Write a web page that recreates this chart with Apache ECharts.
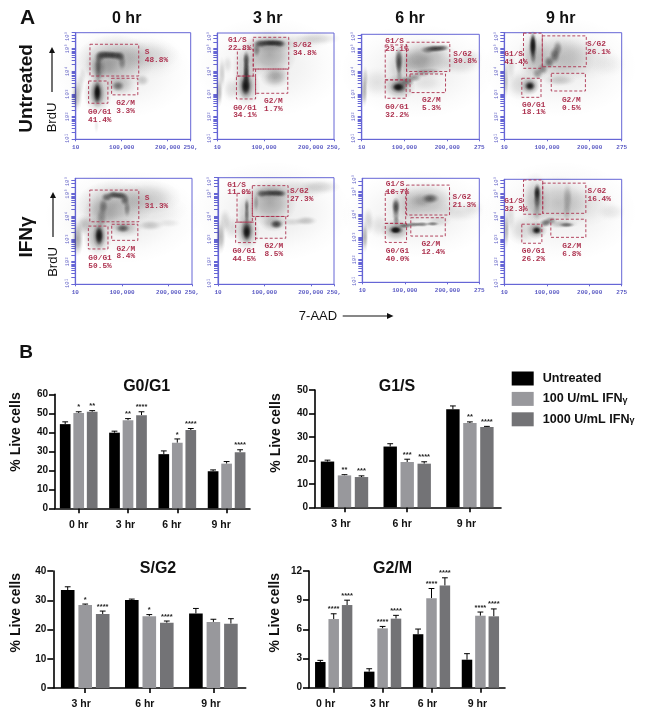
<!DOCTYPE html>
<html><head><meta charset="utf-8">
<style>html,body{margin:0;padding:0;background:#fff}#c{width:645px;height:723px}</style>
<script src="https://cdn.jsdelivr.net/npm/echarts@6/dist/echarts.min.js"></script>
</head><body><div id="c"></div>
<script>
// ---------- Panel B data ----------
const treatments = ['Untreated', '100 U/mL IFNγ', '1000 U/mL IFNγ'];
const timesAll = ['0 hr', '3 hr', '6 hr', '9 hr'];
const timesLate = ['3 hr', '6 hr', '9 hr'];

const g0g1Means = [[44.3, 39.8, 28.5, 19.5], [50.2, 46.3, 34.5, 23.5], [50.8, 49.0, 41.2, 29.5]];
const g0g1Tops  = [[45.5, 40.6, 30.2, 20.2], [50.8, 47.2, 36.5, 24.6], [51.4, 50.8, 42.0, 30.8]];
const g0g1Stars = [['', '', '', ''], ['*', '**', '*', ''], ['**', '****', '****', '****']];

const g1sMeans = [[19.5, 25.9, 41.8], [13.6, 19.3, 35.9], [12.9, 18.6, 34.2]];
const g1sTops  = [[20.1, 27.1, 43.2], [13.9, 20.5, 36.4], [13.4, 19.4, 34.5]];
const g1sStars = [['', '', ''], ['**', '***', '**'], ['***', '****', '****']];

const sg2Means = [[33.5, 30.1, 25.5], [28.4, 24.5, 22.6], [25.3, 22.3, 22.0]];
const sg2Tops  = [[34.6, 30.4, 27.2], [28.7, 25.1, 23.5], [26.3, 22.9, 23.7]];
const sg2Stars = [['', '', ''], ['*', '*', ''], ['****', '****', '']];

const g2mMeans = [[2.64, 1.65, 5.5, 2.88], [7.06, 6.1, 9.2, 7.4], [8.5, 7.1, 10.5, 7.34]];
const g2mTops  = [[2.81, 1.95, 6.03, 3.5], [7.6, 6.3, 10.2, 7.78], [9.0, 7.44, 11.3, 8.1]];
const g2mStars = [['', '', '', ''], ['****', '****', '****', '****'], ['****', '****', '****', '****']];

// ---------- Panel A data ----------
// gates: name, percent, xFrom, xTo (thousands), yFrom, yTo (decades above axis floor), label x, label y
const gates0Untreated = [['S','48.8%',31,137,2.79,4.19,150,4.01],['G0/G1','41.4%',28,70,1.59,2.57,27,1.37],['G2/M','3.3%',78,135,1.96,2.69,88,1.76]];
const gates3Untreated = [['G1/S','22.8%',43,77,2.79,3.97,23,4.53],['S/G2','34.8%',77,153,3.10,4.50,162,4.31],['G2/M','1.7%',82,151,2.03,3.10,100,1.84],['G0/G1','34.1%',41,82,1.78,2.79,34,1.56]];
const gates6Untreated = [['G1/S','23.1%',55,105,2.62,4.16,55,4.50],['S/G2','30.8%',105,206,2.99,4.28,214,3.94],['G2/M','5.3%',113,196,2.06,2.88,141,1.88],['G0/G1','32.2%',55,104,1.81,2.62,55,1.59]];
const gates9Untreated = [['G1/S','41.4%',45,89,3.13,4.68,0,3.91],['S/G2','26.1%',89,192,3.20,4.56,194,4.35],['G2/M','0.5%',110,190,2.13,2.91,135,1.88],['G0/G1','18.1%',41,86,1.85,2.69,41.5,1.69]];
const gates0Ifn = [['S','31.3%',31,136,2.76,4.16,149,3.98],['G0/G1','50.5%',28,70,1.56,2.57,28,1.32],['G2/M','8.4%',78,134,1.94,2.65,88,1.74]];
const gates3Ifn = [['G1/S','11.0%',41,74,2.74,4.01,20,4.56],['S/G2','27.3%',74,151,2.99,4.35,155,4.26],['G2/M','8.5%',81,146,2.03,2.99,100,1.85],['G0/G1','44.5%',38,81,1.84,2.74,31,1.62]];
const gates6Ifn = [['G1/S','18.7%',54,102,2.60,4.00,55,4.50],['S/G2','21.3%',104,205,2.97,4.29,212,3.93],['G2/M','12.4%',114,195,2.04,2.85,139,1.84],['G0/G1','40.0%',54,104,1.76,2.60,55,1.53]];
const gates9Ifn = [['G1/S','32.3%',45,90,3.09,4.60,0,3.84],['S/G2','16.4%',90,191,3.13,4.46,195,4.26],['G2/M','6.8%',109,191,2.07,2.87,136,1.84],['G0/G1','26.2%',41,88,1.81,2.65,41,1.63]];

// density patches: x, y, spreadX, spreadY, density
const cells0Untreated = [
 [100,3.0,110,1.5,.07],
 [85,3.45,62,.85,.3],[60,3.2,30,.5,.2],[150,3.75,55,.55,.12],[165,3.5,50,.6,.06],[50,3.1,12,.5,.3],
 [52,3.65,9,.2,.5],[60,3.72,11,.17,.65],[72,3.72,12,.16,.7],[85,3.7,12,.16,.7],[96,3.66,9,.18,.6],[101,3.4,7,.28,.35],[49,3.3,6,.3,.35],[49,2.9,6,.3,.25],
 [48,2.0,22,.65,.3],[47,2.05,11,.48,.65],[47,2.05,6,.35,1],[47,2.1,4,.2,1],
 [95,2.4,28,.38,.22],[92,2.35,11,.18,.5],[145,2.6,12,.2,.2],
 [2,1.9,9,.5,.28],[9,2.4,7,.4,.12],[15,2.8,6,.3,.08],[45,.6,4,.25,.08]];
const cells3Untreated = [
 [110,3.2,115,1.6,.07],
 [112,3.75,42,.8,.32],[112,4.2,40,.3,.2],[170,4.3,50,.3,.1],[215,4.45,35,.22,.15],[62,3.2,22,.8,.18],
 [62,2.3,22,.6,.3],[61,2.35,11,.42,.75],[61,2.35,7,.28,1],[62,2.75,6,.3,.8],[62,3.1,6,.3,.75],[62,3.5,6,.3,.7],
 [84,3.95,7,.25,.4],[93,4.22,12,.15,.65],[108,4.25,13,.13,.75],[122,4.25,13,.13,.8],[134,4.22,10,.14,.65],
 [123,2.7,22,.32,.28],[130,2.9,20,.3,.12],[4,2.1,6,.5,.28],[10,2.9,6,.55,.18],[22,3.3,8,.3,.1],[30,2.2,14,.4,.12]];
const cells6Untreated = [
 [130,3.0,130,1.5,.07],
 [150,3.55,55,.65,.28],[130,3.4,30,.45,.18],[90,3.1,28,.8,.15],[230,3.3,38,.35,.12],[255,3.6,20,.3,.1],
 [87,2.3,28,.42,.35],[87,2.3,15,.2,.85],[85,2.3,9,.12,1],[87,3.5,8,.42,.7],[87,3.2,6,.3,.4],[88,2.8,6,.3,.25],
 [105,2.55,14,.18,.5],[122,2.72,14,.15,.4],[140,2.92,16,.15,.28],[160,3.0,20,.12,.2],
 [173,4.0,18,.13,.8],[155,3.95,14,.14,.45],[190,4.03,12,.12,.5],
 [6,2.1,6,.5,.3],[8,2.7,6,.4,.18],[35,2.5,30,.5,.1],[150,2.5,30,.3,.08]];
const cells9Untreated = [
 [130,3.2,130,1.6,.07],
 [130,3.6,60,.85,.22],[70,3.6,28,.9,.22],[185,3.55,60,.7,.08],[245,3.3,30,.4,.05],
 [67,4.1,8,.5,.85],[67,4.15,5,.4,.9],[68,3.6,6,.25,.3],
 [60,2.35,16,.28,.5],[60,2.35,9,.15,1],[40,2.4,30,.5,.15],
 [78,2.9,10,.2,.35],[90,3.1,10,.2,.4],[105,3.4,10,.22,.5],[118,3.7,10,.28,.55],[125,4.0,9,.28,.4],
 [130,2.6,28,.2,.18],[4,2.6,5,.6,.22],[14,3.2,10,.5,.12]];
const cells0Ifn = [
 [100,3.0,120,1.5,.08],
 [85,3.5,60,.8,.28],[60,3.1,32,.6,.18],[155,3.85,52,.55,.18],[165,3.3,55,.6,.06],
 [56,2.95,9,.35,.3],[60,3.45,8,.28,.4],[68,3.85,10,.16,.55],[82,3.95,11,.14,.7],[96,3.92,11,.14,.7],[106,3.75,8,.22,.55],[111,3.35,6,.3,.35],
 [48,2.1,22,.65,.3],[51,2.15,10,.42,.75],[51,2.15,6,.3,1],
 [102,2.47,12,.15,.6],[105,2.5,28,.3,.25],[160,2.6,22,.18,.2],[200,2.7,20,.15,.08],
 [5,2.0,9,.55,.35],[18,2.6,14,.35,.2],[30,2.7,16,.25,.1]];
const cells3Ifn = [
 [115,3.2,125,1.6,.08],
 [112,3.6,42,.75,.32],[110,4.05,35,.3,.2],[170,4.2,55,.35,.12],[220,4.3,32,.25,.15],[62,3.1,18,.7,.15],
 [62,2.3,20,.6,.32],[62,2.35,10,.4,.8],[62,2.3,6,.25,1],[62,3.1,4.5,.4,.5],[62,3.5,4.5,.22,.4],
 [82,3.6,5,.3,.25],[95,4.0,10,.14,.55],[110,4.02,12,.13,.65],[125,4.02,12,.13,.7],[136,4.0,9,.13,.5],
 [126,2.65,11,.16,.75],[120,2.7,22,.28,.25],[190,2.8,18,.16,.22],[160,2.75,22,.14,.12],
 [6,2.1,8,.55,.3],[15,2.8,10,.4,.15],[30,2.5,14,.4,.12]];
const cells6Ifn = [
 [130,3.0,130,1.4,.07],
 [150,3.55,55,.65,.25],[100,3.3,35,.8,.12],[225,3.1,45,.32,.1],[260,3.3,20,.25,.06],
 [79,2.3,26,.38,.35],[79,2.31,13,.15,1],[78,2.3,8,.1,1],
 [79,3.35,8,.3,.75],[79,3.0,7,.3,.35],[80,2.7,6,.2,.3],
 [160,3.7,16,.18,.6],[140,3.6,20,.25,.18],
 [100,2.5,14,.1,.55],[120,2.55,14,.09,.5],[140,2.56,14,.09,.5],[165,2.58,12,.08,.5],[180,2.7,22,.2,.12],
 [6,2.0,6,.5,.32],[14,2.7,10,.45,.15],[40,2.5,20,.4,.1]];
const cells9Ifn = [
 [130,3.2,130,1.6,.07],
 [125,3.6,60,.85,.2],[72,3.7,26,.9,.22],[185,3.5,55,.7,.08],[250,3.2,25,.3,.08],
 [77,4.05,7,.3,.95],[77,3.7,7,.35,.6],[76,3.2,8,.3,.2],
 [76,2.4,18,.3,.4],[76,2.38,9,.14,1],[45,2.4,30,.5,.15],
 [96,2.7,10,.14,.55],[108,2.8,12,.14,.4],[146,2.62,14,.09,.5],[135,2.65,28,.14,.22],
 [148,3.8,9,.5,.25],[146,3.2,8,.35,.15],
 [5,2.4,5,.6,.28],[14,3.0,10,.5,.12]];

const columnTitles = ['0 hr', '3 hr', '6 hr', '9 hr'];
const xTop250 = ['10', '100,000', '200,000', '250,'];
const xTop275 = ['10', '100,000', '200,000', '275'];
const logTickLabels = ['10¹', '10²', '10³', '10⁴', '10⁵', '10⁵'];

// ---------- layout ----------
const FLOW_BLUE = '#6666d6', GATE_RED = '#ad3350', MONO = '"Liberation Mono", monospace', SANS = '"Liberation Sans", Arial, sans-serif';
const SOFTEN = 1.4;
const flowPlots = [
 {gates: gates0Untreated, cells: cells0Untreated, x:[75.7,190.7], y:[32.7,139.3], xMax:250, yMax:4.7},
 {gates: gates3Untreated, cells: cells3Untreated, x:[217.3,334], y:[33,139.3], xMax:250, yMax:4.69},
 {gates: gates6Untreated, cells: cells6Untreated, x:[361.7,479.3], y:[34.3,139.3], xMax:275, yMax:4.63},
 {gates: gates9Untreated, cells: cells9Untreated, x:[504.3,621.7], y:[32.7,139.3], xMax:275, yMax:4.7},
 {gates: gates0Ifn, cells: cells0Ifn, x:[75.3,192], y:[178.3,284.3], xMax:250, yMax:4.68},
 {gates: gates3Ifn, cells: cells3Ifn, x:[218,334], y:[177.7,284.3], xMax:250, yMax:4.7},
 {gates: gates6Ifn, cells: cells6Ifn, x:[362.3,479.3], y:[178.3,282.3], xMax:275, yMax:4.59},
 {gates: gates9Ifn, cells: cells9Ifn, x:[504.3,621.7], y:[179.3,284.3], xMax:275, yMax:4.63}
];
const logValues = [];
[0,1,2,3,4].forEach(d => [1,2,3,4,5,6,7,8,9].forEach(k => logValues.push(d + Math.log10(k))));

const barPanels = [
 {title:'G0/G1', titleX:146.7, titleY:379, times:timesAll, means:g0g1Means, tops:g0g1Tops, stars:g0g1Stars, yMax:60, yStep:10,
  axisX:55, endX:250, centers:[78.7,128,177.8,227.3], labelOffset:[0,-2.5,-5.5,-5.5], y0:508.3, yTop:394.3, barW:10.7, pitch:13.5},
 {title:'G1/S', titleX:397, titleY:379, times:timesLate, means:g1sMeans, tops:g1sTops, stars:g1sStars, yMax:50, yStep:10,
  axisX:315, endX:501, centers:[344.5,407.2,470], labelOffset:[-3.5,-5,-3.5], y0:507.3, yTop:390, barW:13.4, pitch:17},
 {title:'S/G2', titleX:158, titleY:561, times:timesLate, means:sg2Means, tops:sg2Tops, stars:sg2Stars, yMax:40, yStep:10,
  axisX:53.3, endX:245.7, centers:[85.2,149.3,213.5], labelOffset:[-4,-4.5,-2.5], y0:688, yTop:571, barW:13.6, pitch:17.5},
 {title:'G2/M', titleX:392.5, titleY:561, times:timesAll, means:g2mMeans, tops:g2mTops, stars:g2mStars, yMax:12, yStep:3,
  axisX:309, endX:505, centers:[333.7,382.6,431.9,481], labelOffset:[-8,-3,-4,-3], y0:687.7, yTop:571, barW:10.5, pitch:13.4}
];
const barColors = ['#000000', '#98989c', '#737376'];

const option = {
 animation:false, backgroundColor:'#fff', textStyle:{fontFamily:SANS},
 grid:[], xAxis:[], yAxis:[], series:[], title:[],
 legend:{ left:511.7, top:371.5, orient:'vertical', padding:0, icon:'rect', itemWidth:22, itemHeight:14, itemGap:6.4,
   data:treatments, selectedMode:false,
   formatter:n => n.includes('γ') ? '{t|'+n.replace('γ','')+'}{g|γ}' : '{t|'+n+'}',
   textStyle:{ rich:{ t:{fontFamily:SANS,fontWeight:'bold',fontSize:12.6,color:'#111',padding:[0,0,0,4]}, g:{fontFamily:SANS,fontWeight:'bold',fontSize:9,color:'#111',padding:[3,0,0,0]} } } },
 graphic:[]
};

// ---------- flow plots ----------
flowPlots.forEach((p, i) => {
 const w = p.x[1]-p.x[0], h = p.y[1]-p.y[0], is250 = p.xMax === 250;
 option.grid.push({left:p.x[0], top:p.y[0], width:w, height:h, show:true, backgroundColor:'#fff', borderColor:FLOW_BLUE, borderWidth:1, containLabel:false});
 const names = is250 ? xTop250 : xTop275;
 const xVals = [0,100,200,p.xMax];
 option.xAxis.push({gridIndex:i, type:'value', min:0, max:p.xMax, splitLine:{show:false},
   axisLine:{lineStyle:{color:FLOW_BLUE,width:1.2}}, axisTick:{length:2,customValues:[0,100,200,p.xMax],lineStyle:{color:FLOW_BLUE}},
   axisLabel:{customValues:xVals, fontFamily:MONO, fontSize:6, fontWeight:'bold', color:'#5c5cc4', margin:5,
     formatter:v => names[xVals.indexOf(v)]}});
 const yLabVals = [0.05,1,2,3,4,4.55];
 option.yAxis.push({gridIndex:i, type:'value', min:0, max:p.yMax, splitLine:{show:false},
   axisLine:{lineStyle:{color:FLOW_BLUE,width:1.2}},
   axisTick:{length:4,customValues:logValues.filter(v=>v<=p.yMax),lineStyle:{color:FLOW_BLUE,width:1}},
   axisLabel:{customValues:yLabVals, rotate:90, fontFamily:MONO, fontSize:5.5, color:'#5c5cc4', margin:5,
     formatter:v => logTickLabels[yLabVals.indexOf(v)]}});
 const kx = w/p.xMax, ky = h/p.yMax;
 option.series.push({type:'scatter', xAxisIndex:i, yAxisIndex:i, silent:true, z:1,
   data:p.cells.map(r => ({value:r,
     symbolSize:[2*SOFTEN*r[2]*kx, 2*SOFTEN*r[3]*ky],
     itemStyle:{opacity:1,color:{type:'radial',x:.5,y:.5,r:.5,colorStops:[
       {offset:0,color:'rgba(20,20,20,'+r[4]+')'},{offset:.4,color:'rgba(20,20,20,'+(r[4]*.72)+')'},{offset:.75,color:'rgba(20,20,20,'+(r[4]*.2)+')'},{offset:1,color:'rgba(20,20,20,0)'}]}}}))});
 option.series.push({type:'custom', xAxisIndex:i, yAxisIndex:i, silent:true, z:3, clip:false,
   data:p.gates.map(g=>g.slice(2)),
   renderItem:(params, api) => {
     const g = p.gates[params.dataIndex];
     const a = api.coord([g[2], g[5]]), b = api.coord([g[3], g[4]]);
     const lp = api.coord([g[6], g[7]]);
     return {type:'group', children:[
       {type:'rect', shape:{x:a[0],y:a[1],width:b[0]-a[0],height:b[1]-a[1]}, style:{fill:null,stroke:GATE_RED,lineWidth:.9,lineDash:[3,2]}},
       {type:'text', style:{x:lp[0],y:lp[1],text:g[0]+'\n'+g[1],fill:GATE_RED,font:'bold 7.8px '+MONO,lineHeight:7.6,textAlign:'left',textVerticalAlign:'top'}}
     ]};
   }});
});

// ---------- bar panels ----------
const firstBar = flowPlots.length;
barPanels.forEach((p, n) => {
 const gi = firstBar+n, unit = p.centers[1]-p.centers[0], c0 = p.centers[0];
 const toX = px => (px-c0)/unit;
 option.grid.push({left:p.axisX, top:p.yTop, width:p.endX-p.axisX, height:p.y0-p.yTop, containLabel:false});
 const groupIdx = p.times.map((_,k)=>k);
 const labelVals = p.labelOffset.map((o,k)=>k+o/unit);
 option.xAxis.push({gridIndex:gi, type:'value', min:toX(p.axisX), max:toX(p.endX), splitLine:{show:false},
   axisLine:{lineStyle:{color:'#000',width:1.6}, onZero:false},
   axisTick:{length:5,customValues:groupIdx,lineStyle:{color:'#000',width:1.6}},
   axisLabel:{customValues:labelVals, margin:11, fontFamily:SANS, fontWeight:'bold', fontSize:10.5, color:'#111',
     formatter:v => p.times[labelVals.indexOf(v)]}});
 option.yAxis.push({gridIndex:gi, type:'value', min:0, max:p.yMax, interval:p.yStep, splitLine:{show:false},
   axisLine:{show:true,onZero:false,lineStyle:{color:'#000',width:1.6}},
   axisTick:{show:true,length:6,lineStyle:{color:'#000',width:1.6}},
   axisLabel:{margin:7, fontFamily:SANS, fontWeight:'bold', fontSize:10, color:'#111'}});
 treatments.forEach((t, s) => {
   option.series.push({type:'bar', name:t, xAxisIndex:gi, yAxisIndex:gi, silent:true, z:2,
     barWidth:p.barW, barGap:((p.pitch-p.barW)/p.barW*100)+'%', itemStyle:{color:barColors[s]},
     data:p.means[s].map((v,k)=>[k,v])});
   option.series.push({type:'custom', xAxisIndex:gi, yAxisIndex:gi, silent:true, z:1, clip:false,
     encode:{x:0,y:1}, data:p.tops[s].map((v,k)=>[k,v,p.means[s][k]]),
     renderItem:(params, api) => {
       const top = api.coord([api.value(0), api.value(1)]), mean = api.coord([api.value(0), api.value(2)]);
       const x = top[0]+(s-1)*p.pitch, cap = 2.9;
       const star = p.stars[s][params.dataIndex];
       return {type:'group', children:[
         {type:'line', shape:{x1:x,y1:mean[1],x2:x,y2:top[1]}, style:{stroke:'#000',lineWidth:1}},
         {type:'line', shape:{x1:x-cap,y1:top[1],x2:x+cap,y2:top[1]}, style:{stroke:'#000',lineWidth:1}},
         {type:'text', style:{x:x,y:top[1]-.5,text:star,fill:'#222',font:'bold 7.5px '+SANS,textAlign:'center',textVerticalAlign:'bottom'}}
       ]};
     }});
 });
 option.title.push({text:p.title, left:p.titleX, top:p.titleY, textAlign:'center', padding:0,
   textStyle:{fontFamily:SANS,fontSize:16,fontWeight:'bold',color:'#111'}});
});
// column titles for panel A
[126.7,267.7,410,560.7].forEach((x,i) => option.title.push({text:columnTitles[i], left:x, top:11, textAlign:'center', padding:0,
   textStyle:{fontFamily:SANS,fontSize:16,fontWeight:'bold',color:'#111'}}));

// ---------- annotations ----------
const txt = (x,y,t,font,rot) => ({type:'text', x, y, rotation:rot?Math.PI/2:0, z:10, silent:true,
   style:{text:t, font, fill:'#111', textAlign:'center', textVerticalAlign:'middle'}});
const arrowLine = (x1,y1,x2,y2) => ({type:'line', z:10, silent:true, shape:{x1,y1,x2,y2}, style:{stroke:'#111',lineWidth:1.2}});
const arrowHead = pts => ({type:'polygon', z:10, silent:true, shape:{points:pts}, style:{fill:'#111'}});
option.graphic = [
 txt(27.5,18.5,'A','bold 21px '+SANS), txt(26,353,'B','bold 19px '+SANS),
 txt(27,88.5,'Untreated','bold 19px '+SANS,true), txt(27,237,'IFNγ','bold 19px '+SANS,true),
 txt(52.5,117.5,'BrdU','13px '+SANS,true), txt(53.5,262,'BrdU','13px '+SANS,true),
 arrowLine(52,92,52,51), arrowHead([[52,47],[49,53],[55,53]]),
 arrowLine(53,237,53,196), arrowHead([[53,192],[50,198],[56,198]]),
 txt(318,316,'7-AAD','13px '+SANS),
 arrowLine(342.7,316,388,316), arrowHead([[393.5,316],[387,313],[387,319]]),
 txt(15.7,432,'% Live cells','bold 14px '+SANS,true), txt(276,433,'% Live cells','bold 14px '+SANS,true),
 txt(15.7,612.7,'% Live cells','bold 14px '+SANS,true), txt(275,612.7,'% Live cells','bold 14px '+SANS,true)
];

echarts.init(document.getElementById('c'), null, {renderer:'canvas'}).setOption(option);
</script></body></html>
